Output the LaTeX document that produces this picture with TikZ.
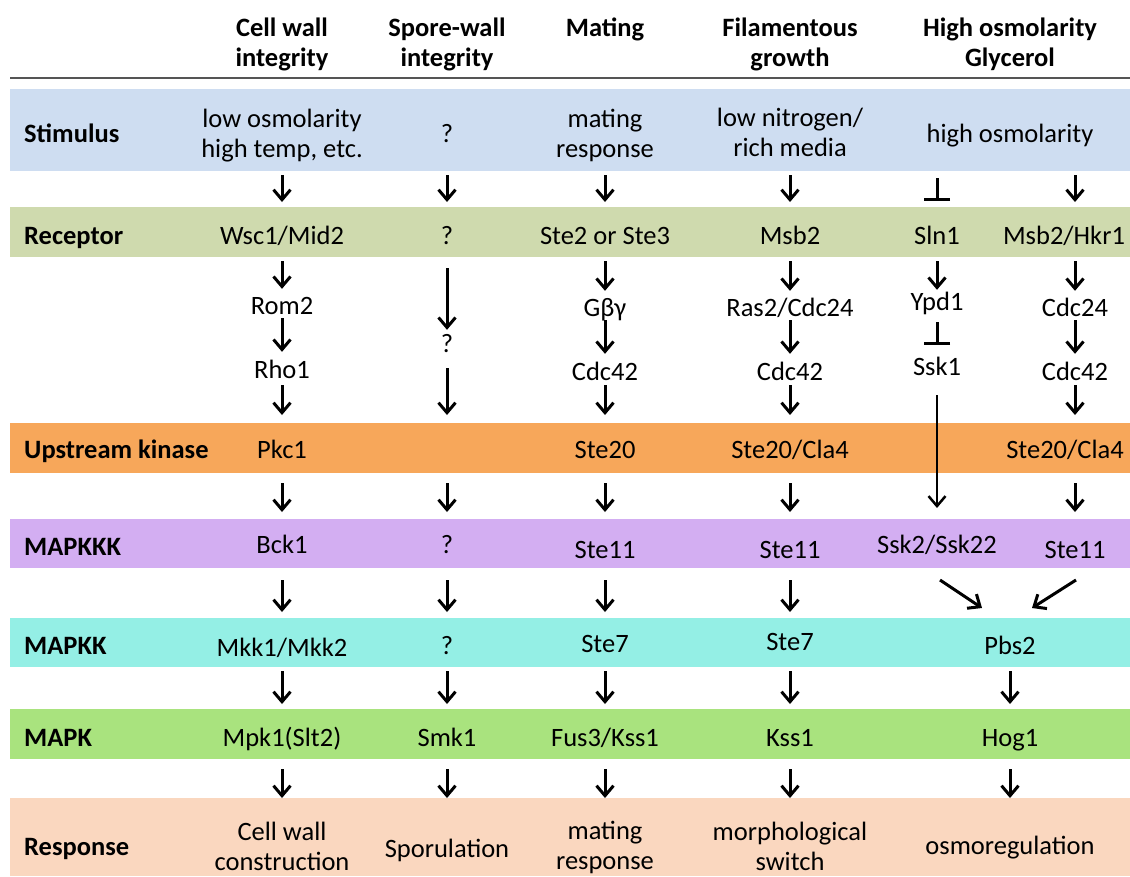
\documentclass[tikz,border=0pt]{standalone}
\usepackage{fontspec}
\setmainfont{Carlito}
\usetikzlibrary{arrows.meta}

\definecolor{stimblue}{HTML}{CEDDF1}
\definecolor{recgreen}{HTML}{CFDAAE}
\definecolor{uporange}{HTML}{F7A75A}
\definecolor{kkkpurple}{HTML}{D3AEF2}
\definecolor{kkcyan}{HTML}{94EFE5}
\definecolor{mapkgreen}{HTML}{A9E37E}
\definecolor{resppeach}{HTML}{FAD7BF}
\definecolor{rulegray}{HTML}{555555}

\begin{document}
\begin{tikzpicture}[x=1pt, y=-1pt,
    band/.style={anchor=north west, minimum width=1120pt, inner sep=0pt, outer sep=0pt},
    txt/.style={font=\fontsize{26.5}{30}\selectfont, inner sep=0pt, text height=20pt, text depth=2pt},
    multi/.style={font=\fontsize{26.5}{30}\selectfont, inner sep=0pt, align=center, yshift=-2.5pt},
    head/.style={multi, font=\fontsize{26.5}{30}\selectfont\bfseries},
    lbl/.style={txt, font=\fontsize{26.5}{30}\selectfont\bfseries, anchor=west},
    arr/.style={-{Straight Barb[length=10pt,width=17pt]}, line width=3pt, shorten <=4pt, shorten >=5pt},
    inh/.style={-{Bar[width=26pt]}, line width=3pt, shorten <=4pt, shorten >=5pt}]
  \useasboundingbox (0,0) rectangle (1130,876);

  % columns
  \coordinate (c1) at (282,0);
  \coordinate (c2) at (447,0);
  \coordinate (c3) at (605,0);
  \coordinate (c4) at (790,0);
  \coordinate (c5) at (1010,0);
  \coordinate (c5a) at (937,0);
  \coordinate (c5b) at (1075,0);

  % header
  \node[head] (hcw) at (282,42) {Cell wall\\integrity};
  \node[head] (hsw) at (447,42) {Spore-wall\\integrity};
  \node[head] (hmat) at (605,27) {Mating};
  \node[head] (hfil) at (790,42) {Filamentous\\growth};
  \node[head] (hhog) at (1010,42) {High osmolarity\\Glycerol};
  \draw[rulegray, line width=2.5pt] (10,78) -- (1130,78);

  % bands
  \node[band, fill=stimblue, minimum height=82pt] (stim) at (10,89) {};
  \node[band, fill=recgreen, minimum height=50pt] (rec) at (10,207) {};
  \node[band, fill=uporange, minimum height=50pt] (up) at (10,423) {};
  \node[band, fill=kkkpurple, minimum height=49pt] (kkk) at (10,519) {};
  \node[band, fill=kkcyan, minimum height=49pt] (kk) at (10,618) {};
  \node[band, fill=mapkgreen, minimum height=50pt] (mapk) at (10,709) {};
  \node[band, fill=resppeach, minimum height=78pt] (resp) at (10,798) {};

  % row labels
  \node[lbl] (lstim) at (24,133) {Stimulus};
  \node[lbl] (lrec) at (24,235) {Receptor};
  \node[lbl] (lup) at (24,449) {Upstream kinase};
  \node[lbl] (lkkk) at (24,546) {MAPKKK};
  \node[lbl] (lkk) at (24,645) {MAPKK};
  \node[lbl] (lmapk) at (24,737) {MAPK};
  \node[lbl] (lresp) at (24,846) {Response};

  % stimulus
  \node[multi] (stimcw) at (282,133) {low osmolarity\\high temp, etc.};
  \node[txt] (stimsw) at (447,133) {?};
  \node[multi] (stimmat) at (605,133) {mating\\response};
  \node[multi] (stimfil) at (790,130) {low nitrogen/\\rich media};
  \node[txt] (stimhog) at (1010,133) {high osmolarity};

  % receptor
  \node[txt] (wsc) at (282,235) {Wsc1/Mid2};
  \node[txt] (recsw) at (447,235) {?};
  \node[txt] (ste2) at (605,235) {Ste2 or Ste3};
  \node[txt] (msb) at (790,235) {Msb2};
  \node[txt] (sln) at (937,235) {Sln1};
  \node[txt] (hkr) at (1064,235) {Msb2/Hkr1};

  % between receptor and upstream kinase
  \node[txt] (rom) at (282,305) {Rom2};
  \node[txt] (rho) at (282,369) {Rho1};
  \node[txt] (qsw) at (447,343) {?};
  \node[txt] (gbg) at (605,307) {Gβγ};
  \node[txt] (cdcmat) at (605,371) {Cdc42};
  \node[txt] (ras) at (790,307) {Ras2/Cdc24};
  \node[txt] (cdcfil) at (790,371) {Cdc42};
  \node[txt] (ypd) at (937,301) {Ypd1};
  \node[txt] (ssk1) at (937,366) {Ssk1};
  \node[txt] (cdc24) at (1075,307) {Cdc24};
  \node[txt] (cdchog) at (1075,371) {Cdc42};

  % upstream kinase
  \node[txt] (pkc) at (282,449) {Pkc1};
  \node[txt] (ste20) at (605,449) {Ste20};
  \node[txt] (cla4) at (790,449) {Ste20/Cla4};
  \node[txt] (cla4b) at (1065,449) {Ste20/Cla4};

  % MAPKKK
  \node[txt] (bck) at (282,544) {Bck1};
  \node[txt] (kkksw) at (447,544) {?};
  \node[txt] (ste11m) at (605,549) {Ste11};
  \node[txt] (ste11f) at (790,549) {Ste11};
  \node[txt] (ssk2) at (937,544) {Ssk2/Ssk22};
  \node[txt] (ste11h) at (1075,549) {Ste11};

  % MAPKK
  \node[txt] (mkk) at (282,647) {Mkk1/Mkk2};
  \node[txt] (kksw) at (447,645) {?};
  \node[txt] (ste7m) at (605,643) {Ste7};
  \node[txt] (ste7f) at (790,641) {Ste7};
  \node[txt] (pbs) at (1010,645) {Pbs2};

  % MAPK
  \node[txt] (mpk) at (282,737) {Mpk1(Slt2)};
  \node[txt] (smk) at (447,737) {Smk1};
  \node[txt] (fus) at (605,737) {Fus3/Kss1};
  \node[txt] (kss) at (790,737) {Kss1};
  \node[txt] (hog) at (1010,737) {Hog1};

  % response
  \node[multi] (respcw) at (282,844) {Cell wall\\construction};
  \node[txt] (respsw) at (447,848) {Sporulation};
  \node[multi] (respmat) at (605,845) {mating\\response};
  \node[multi] (respfil) at (790,844) {morphological\\switch};
  \node[txt] (resphog) at (1010,845) {osmoregulation};

  % stimulus -> receptor
  \draw[arr] (stim.south -| c1) -- (rec.north -| c1);
  \draw[arr] (stim.south -| c2) -- (rec.north -| c2);
  \draw[arr] (stim.south -| c3) -- (rec.north -| c3);
  \draw[arr] (stim.south -| c4) -- (rec.north -| c4);
  \draw[inh, shorten <=7pt, shorten >=6pt] (stim.south -| c5a) -- (rec.north -| c5a);
  \draw[arr] (stim.south -| c5b) -- (rec.north -| c5b);

  % receptor -> upstream kinase
  \draw[arr] (rec.south -| c1) -- (rom.north);
  \draw[arr, shorten <=2pt, shorten >=6pt] (rom.south) -- (rho.north);
  \draw[arr, shorten <=5pt, shorten >=8pt] (rho.south) -- (up.north -| c1);
  \draw[arr, shorten <=11pt, shorten >=2pt] (rec.south -| c2) -- (qsw.north);
  \draw[arr, shorten <=14pt, shorten >=8pt] (qsw.south) -- (up.north -| c2);
  \draw[arr] (rec.south -| c3) -- (gbg.north);
  \draw[arr, shorten <=2pt, shorten >=6pt] (gbg.south) -- (cdcmat.north);
  \draw[arr, shorten <=3pt, shorten >=8pt] (cdcmat.south) -- (up.north -| c3);
  \draw[arr] (rec.south -| c4) -- (ras.north);
  \draw[arr, shorten <=2pt, shorten >=6pt] (ras.south) -- (cdcfil.north);
  \draw[arr, shorten <=3pt, shorten >=8pt] (cdcfil.south) -- (up.north -| c4);
  \draw[arr, shorten >=0pt] (rec.south -| c5a) -- (ypd.north);
  \draw[inh, shorten <=10pt, shorten >=10pt] (ypd.south) -- (ssk1.north);
  \draw[arr, line width=2.5pt, shorten <=18pt, shorten >=11pt] (ssk1.south) -- (kkk.north -| c5a);
  \draw[arr] (rec.south -| c5b) -- (cdc24.north);
  \draw[arr, shorten <=2pt, shorten >=6pt] (cdc24.south) -- (cdchog.north);
  \draw[arr, shorten <=3pt, shorten >=8pt] (cdchog.south) -- (up.north -| c5b);

  % upstream kinase -> MAPKKK
  \draw[arr, shorten <=10pt, shorten >=7pt] (up.south -| c1) -- (kkk.north -| c1);
  \draw[arr, shorten <=10pt, shorten >=7pt] (up.south -| c2) -- (kkk.north -| c2);
  \draw[arr, shorten <=10pt, shorten >=7pt] (up.south -| c3) -- (kkk.north -| c3);
  \draw[arr, shorten <=10pt, shorten >=7pt] (up.south -| c4) -- (kkk.north -| c4);
  \draw[arr, shorten <=10pt, shorten >=7pt] (up.south -| c5b) -- (kkk.north -| c5b);

  % MAPKKK -> MAPKK
  \draw[arr, shorten <=12pt, shorten >=6pt] (kkk.south -| c1) -- (kk.north -| c1);
  \draw[arr, shorten <=12pt, shorten >=6pt] (kkk.south -| c2) -- (kk.north -| c2);
  \draw[arr, shorten <=12pt, shorten >=6pt] (kkk.south -| c3) -- (kk.north -| c3);
  \draw[arr, shorten <=12pt, shorten >=6pt] (kkk.south -| c4) -- (kk.north -| c4);
  \coordinate (d1s) at (940,580);
  \coordinate (d1e) at (982,608);
  \coordinate (d2s) at (1076,580);
  \coordinate (d2e) at (1032,608);
  \draw[arr, shorten <=0pt, shorten >=0pt] (d1s) -- (d1e);
  \draw[arr, shorten <=0pt, shorten >=0pt] (d2s) -- (d2e);

  % MAPKK -> MAPK
  \draw[arr] (kk.south -| c1) -- (mapk.north -| c1);
  \draw[arr] (kk.south -| c2) -- (mapk.north -| c2);
  \draw[arr] (kk.south -| c3) -- (mapk.north -| c3);
  \draw[arr] (kk.south -| c4) -- (mapk.north -| c4);
  \draw[arr] (kk.south -| c5) -- (mapk.north -| c5);

  % MAPK -> response
  \draw[arr, shorten <=10pt, shorten >=0pt] (mapk.south -| c1) -- (resp.north -| c1);
  \draw[arr, shorten <=10pt, shorten >=0pt] (mapk.south -| c2) -- (resp.north -| c2);
  \draw[arr, shorten <=10pt, shorten >=0pt] (mapk.south -| c3) -- (resp.north -| c3);
  \draw[arr, shorten <=10pt, shorten >=0pt] (mapk.south -| c4) -- (resp.north -| c4);
  \draw[arr, shorten <=10pt, shorten >=0pt] (mapk.south -| c5) -- (resp.north -| c5);
\end{tikzpicture}
\end{document}
